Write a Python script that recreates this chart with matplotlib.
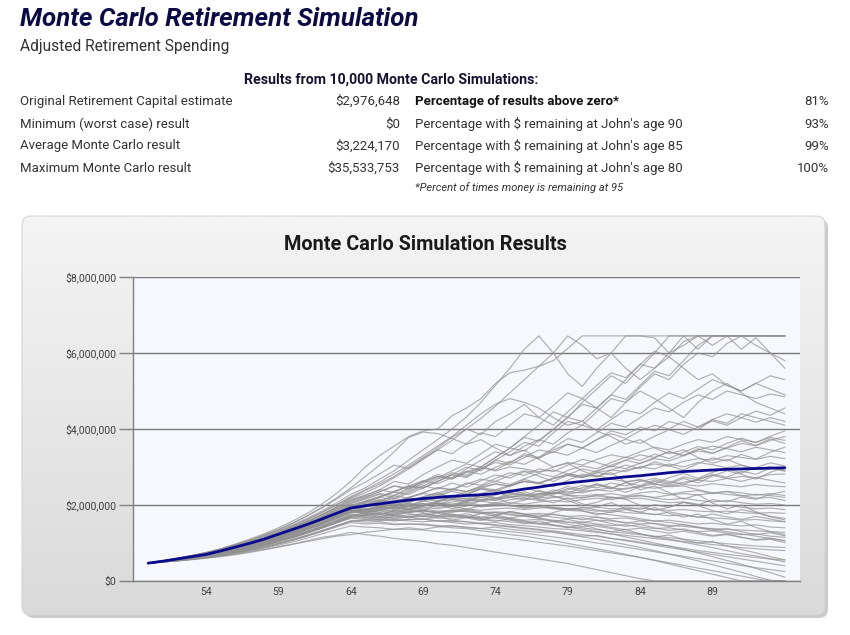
import matplotlib
matplotlib.use("Agg")
import matplotlib.pyplot as plt
from matplotlib.patches import FancyBboxPatch
from matplotlib.colors import LinearSegmentedColormap
import numpy as np

# ---------------- data (values in $10,000 units) ----------------
ages = list(range(50, 95))

expected = [47, 52, 58, 64, 70, 79, 89, 99, 110, 123, 136, 149, 163, 178, 192,
            198, 203, 208, 213, 217, 220, 223, 225, 227, 230, 236, 242, 247, 253, 258,
            262, 266, 270, 274, 277, 281, 285, 288, 290, 292, 294, 295, 296, 297, 298]

path_01 = [47,53,60,67,75,85,97,110,124,140,158,178,202,230,262, 300,330,355,380,395,400,435,455,480,520,548,555,565,580,612,645,645,645,645,645,645,645,645,645,645,645,645,645,645,645]
path_02 = [47,53,59,66,74,84,95,107,121,136,153,172,194,218,245, 275,305,340,378,392,388,375,360,372,350,330,345,320,300,310,290,275,285,260,240,250,232,215,228,205,190,200,182,170,165]
path_03 = [47,52,58,65,73,83,94,106,119,133,148,165,184,205,228, 245,268,290,318,345,372,400,432,470,515,560,610,645,600,545,512,560,600,645,645,640,600,620,645,645,645,645,645,645,645]
path_04 = [47,52,58,64,71,80,90,101,113,126,140,155,172,190,210, 225,240,262,255,280,300,318,310,335,360,350,380,410,445,430,470,505,540,520,560,600,645,645,610,645,645,645,645,645,645]
path_05 = [47,52,57,63,70,78,87,97,108,120,133,147,163,180,198, 210,222,236,250,245,262,280,300,290,318,340,365,355,390,420,410,445,480,470,510,545,530,570,600,590,625,645,620,600,560]
path_06 = [47,52,58,64,71,79,88,98,110,122,136,151,168,186,205, 218,230,225,245,262,280,270,295,318,340,330,355,372,360,390,410,398,425,450,440,470,495,480,505,530,515,500,520,540,530]
path_07 = [47,53,59,66,73,82,92,103,116,130,145,162,181,200,220, 238,255,275,300,325,350,378,400,385,420,440,465,430,410,445,480,455,430,470,500,480,455,430,470,500,520,495,470,455,440]
path_08 = [47,52,57,63,69,77,86,96,107,119,132,146,161,177,195, 205,220,215,232,250,268,285,278,300,325,350,342,370,400,432,465,455,490,530,570,560,600,645,645,645,645,645,645,645,645]
path_09 = [47,52,58,64,70,78,87,97,108,120,133,147,162,178,196, 208,220,234,228,245,262,280,275,295,312,305,325,345,338,360,350,372,395,385,405,395,420,410,398,425,415,440,430,420,410]
path_10 = [47,51,56,62,68,76,85,95,106,118,131,145,160,176,192, 200,212,205,220,232,245,240,255,268,262,278,290,285,300,312,305,320,332,325,340,352,345,360,372,365,380,372,365,378,370]
path_11 = [47,52,57,63,69,77,86,96,107,119,132,146,161,177,194, 198,205,212,208,218,228,222,235,245,240,252,262,258,270,278,272,285,292,288,300,308,302,315,322,318,330,325,320,328,322]
path_12 = [47,51,56,61,67,74,82,91,101,112,124,137,151,166,182, 185,190,196,192,200,206,202,210,215,212,220,225,222,230,235,232,240,245,242,250,255,252,260,265,262,270,275,272,280,282]
path_13 = [47,52,57,62,68,75,83,92,102,113,125,138,152,167,184, 188,194,190,198,204,200,208,214,210,218,224,220,228,232,228,236,240,236,244,248,244,250,254,250,256,252,248,254,250,248]
path_14 = [47,51,56,61,66,73,81,90,100,111,123,136,150,165,180, 182,186,183,190,194,190,196,200,196,202,206,202,208,212,208,214,218,214,220,224,220,226,230,226,232,228,224,228,225,220]
path_15 = [47,51,55,60,65,72,80,88,97,107,118,130,143,157,172, 174,178,175,180,184,180,186,190,186,190,192,188,192,194,190,192,194,190,190,192,188,186,188,184,182,184,180,178,180,178]
path_16 = [47,51,55,60,66,73,81,90,100,111,123,136,150,165,181, 182,184,180,184,186,182,184,186,180,182,180,176,178,175,170,172,168,164,166,160,158,160,155,150,152,148,145,148,142,140]
path_17 = [47,50,54,59,64,70,77,85,94,104,115,127,140,154,168, 168,170,166,170,172,168,170,172,166,168,165,160,162,158,154,155,150,146,148,142,138,140,134,130,132,126,122,124,118,115]
path_18 = [47,50,54,58,63,69,76,84,93,103,114,126,139,153,166, 165,168,164,168,170,165,166,168,162,160,156,152,150,146,142,140,135,130,126,122,118,114,110,106,102,98,95,92,90,88]
path_19 = [47,51,55,59,64,70,77,85,94,104,115,127,140,153,165, 162,164,160,162,163,158,157,156,150,148,144,140,136,132,127,122,118,112,108,102,96,92,86,80,75,70,66,62,58,55]
path_20 = [47,50,53,57,62,67,73,80,88,97,107,118,130,142,154, 150,152,148,150,150,146,144,142,138,134,130,126,121,116,111,106,100,95,89,83,77,71,65,59,53,47,41,35,30,25]
path_21 = [47,50,53,57,61,66,72,79,86,94,103,113,124,135,145, 142,140,136,136,134,130,128,125,120,116,112,107,102,97,92,86,80,74,68,62,55,48,41,34,27,20,13,6,0,0]
path_22 = [47,50,53,56,60,64,69,75,82,89,97,106,115,120,128, 122,118,112,108,104,98,94,88,82,76,70,64,58,52,46,38,30,22,14,6,0,0,0,0,0,0,0,0,0,0]
path_23 = [47,51,55,59,64,70,76,83,91,100,110,121,133,145,158, 155,156,150,150,148,144,140,138,132,128,122,118,112,106,99,92,85,78,70,62,54,45,36,27,18,9,0,0,0,0]
path_24 = [47,50,54,58,63,68,74,81,89,98,108,119,131,144,157, 160,158,162,158,156,158,154,150,152,146,142,138,134,128,122,116,110,103,96,88,80,71,62,53,43,33,23,12,2,0]
path_25 = [47,51,55,60,65,71,78,86,95,105,116,128,141,155,170, 172,175,170,174,176,170,172,168,165,166,160,156,152,148,142,136,130,124,116,108,100,92,83,74,64,54,44,33,22,10]
path_26 = [47,51,56,61,67,74,82,91,101,112,124,137,151,166,182, 185,190,184,188,190,184,186,182,178,180,174,170,166,160,155,150,144,138,130,124,116,110,102,95,88,80,72,66,58,50]
path_27 = [47,52,57,63,69,76,84,93,103,114,126,139,153,168,184, 190,196,192,200,204,198,202,205,200,202,198,195,196,190,186,184,178,174,170,164,158,154,148,142,136,130,124,118,112,106]
path_28 = [47,52,58,64,70,78,87,97,108,120,133,147,162,178,195, 200,206,200,210,216,210,214,218,212,216,220,214,218,222,216,220,224,218,222,226,218,214,218,212,208,212,206,202,204,200]
path_29 = [47,51,56,62,68,75,83,92,102,113,125,138,152,167,183, 176,186,196,205,198,210,222,216,230,240,232,244,236,228,240,252,245,258,250,262,270,262,255,268,278,270,262,272,265,258]
path_30 = [47,52,57,63,70,78,87,97,108,121,135,150,166,183,201, 196,210,224,218,232,246,240,258,252,270,285,278,295,288,305,320,312,300,318,332,325,340,330,345,355,348,340,352,345,338]
path_31 = [47,53,59,66,73,81,91,102,114,127,142,158,175,193,213, 222,235,250,242,260,275,268,288,300,292,312,330,322,345,360,350,372,388,375,395,410,400,420,405,425,440,430,418,430,420]
path_32 = [47,52,58,65,72,80,90,101,113,126,141,157,175,195,218, 232,250,272,295,320,345,370,400,428,460,495,530,565,600,645,620,585,600,560,530,560,590,560,530,545,515,500,520,505,490]
path_33 = [47,53,59,66,74,83,93,104,116,130,145,162,180,200,222, 240,260,282,305,330,355,380,410,440,465,480,470,455,430,410,420,395,380,360,372,350,335,345,325,310,320,305,295,300,290]
path_34 = [47,51,56,62,68,75,83,92,102,113,125,138,152,167,183, 186,190,195,190,198,204,198,206,210,205,214,218,212,220,225,218,226,230,224,232,236,228,234,238,230,236,232,226,230,225]
path_35 = [47,52,57,63,69,76,84,93,103,114,126,139,153,168,185, 188,194,188,196,200,194,198,202,195,198,200,194,196,192,190,188,184,186,180,178,176,172,174,168,166,164,160,162,158,156]
path_36 = [47,52,58,64,71,79,88,98,109,121,134,148,163,179,197, 205,214,208,220,230,226,240,236,248,255,250,262,258,270,278,272,285,280,292,300,295,308,300,312,306,298,305,295,300,292]
path_37 = [47,53,60,67,75,84,95,107,120,135,152,171,192,215,240, 260,282,305,296,322,345,335,362,390,380,410,440,430,462,495,480,515,548,535,570,605,590,630,645,620,645,610,640,600,580]
path_38 = [47,50,54,58,63,69,75,82,90,99,109,120,132,145,158, 160,162,158,162,163,158,160,156,152,154,148,146,142,138,136,132,128,124,120,116,112,108,104,100,96,92,88,85,82,80]
path_39 = [47,51,55,60,66,72,79,87,96,106,117,129,142,156,171, 175,180,176,182,184,180,182,184,178,180,176,172,174,168,164,166,160,158,154,150,152,146,144,140,138,136,134,132,130,128]
path_40 = [47,51,56,61,67,74,82,91,101,112,124,137,151,166,182, 188,195,202,198,210,222,216,230,242,236,250,262,256,270,282,276,290,302,296,310,322,316,330,342,336,350,362,356,370,380]
path_41 = [47,52,57,63,69,76,84,93,103,114,126,139,153,168,184, 196,210,225,240,256,272,290,308,300,325,350,378,368,398,430,420,455,490,478,515,552,540,580,620,645,645,645,645,645,645]
path_42 = [47,52,58,64,71,79,88,98,109,121,134,148,164,181,200, 210,222,235,250,244,262,280,272,295,318,310,335,325,350,375,365,390,415,405,430,455,445,470,490,478,500,490,480,492,485]
path_43 = [47,53,59,66,73,81,90,100,111,123,137,152,169,188,208, 220,235,250,245,262,275,270,285,298,290,300,295,288,292,282,275,278,268,262,265,255,248,250,240,232,235,225,218,220,212]
path_44 = [47,52,57,63,69,76,84,93,103,114,126,139,154,170,188, 195,202,198,210,218,212,220,226,220,228,232,226,230,234,226,224,228,220,216,218,212,206,208,202,198,200,194,190,192,188]
path_45 = [47,50,53,57,61,66,71,77,83,90,97,104,111,118,122, 128,132,136,140,136,142,146,140,138,142,136,132,128,130,124,118,120,112,106,100,94,88,82,76,70,64,58,52,46,40]
path_46 = [47,52,56,62,69,75,84,92,104,115,126,141,154,171,186, 179,192,205,198,186,201,214,208,226,219,204,213,231,224,212,198,207,221,215,199,186,194,207,199,185,177,188,180,169,161]
path_47 = [47,51,57,62,67,75,82,93,101,113,127,137,152,164,181, 190,176,184,199,211,203,190,197,212,226,240,229,218,235,249,241,256,247,233,248,262,255,270,258,276,290,281,268,286,299]
path_48 = [47,52,58,63,70,77,87,95,107,117,131,143,160,174,190, 201,214,196,205,221,233,218,227,242,236,221,230,214,206,219,203,195,206,190,181,193,178,168,176,162,150,157,141,130,122]
path_49 = [47,51,56,61,67,73,81,89,99,109,121,131,146,158,174, 168,160,171,166,178,172,160,167,178,171,183,176,169,180,191,185,174,182,195,188,201,194,207,200,214,208,221,215,228,236]
path_50 = [47,53,58,65,71,80,89,100,110,124,136,153,168,186,204, 215,228,219,236,251,242,258,247,264,279,271,288,276,262,279,295,287,305,318,309,325,341,330,348,336,352,369,357,374,362]
path_51 = [47,52,57,62,68,76,84,94,103,115,128,140,155,172,187, 181,174,186,178,169,181,175,166,159,170,163,152,158,147,140,149,137,129,136,124,116,121,109,100,104,92,83,74,64,56]
path_52 = [47,51,55,61,66,73,80,88,98,107,119,130,143,159,173, 179,186,194,187,199,206,196,211,220,212,227,235,224,240,231,246,255,243,259,268,256,272,283,270,286,297,284,299,311,303]
path_53 = [47,52,58,64,70,78,86,96,106,119,131,146,161,178,196, 188,197,209,219,210,223,236,228,244,256,249,267,258,248,265,281,274,292,305,296,314,303,292,309,324,316,333,321,339,352]
path_54 = [47,51,56,61,67,74,82,90,100,110,122,134,148,161,177, 171,179,172,181,186,178,171,177,168,174,166,172,165,157,162,154,160,151,144,149,140,133,137,128,120,124,115,107,110,101]
path_55 = [47,52,57,63,69,77,85,95,105,117,130,144,159,175,192, 199,208,218,209,222,231,243,235,250,262,254,269,283,274,291,303,295,312,326,317,334,322,339,354,345,362,376,364,381,395]
path_56 = [47,51,56,62,68,75,83,92,102,114,126,139,153,169,185, 178,170,178,187,180,172,181,189,182,174,183,176,168,176,169,161,168,160,152,158,150,143,149,141,133,138,130,122,127,119]
path_57 = [47,52,57,63,70,78,86,96,107,118,131,145,161,176,194, 186,198,190,203,196,209,218,211,225,217,231,224,238,230,244,237,252,244,259,251,266,258,274,266,281,273,289,281,297,289]
path_58 = [47,51,55,60,66,72,79,86,95,105,116,127,139,153,168, 173,166,174,169,162,169,176,170,163,157,164,158,151,156,149,143,148,141,135,139,132,126,131,124,118,122,115,109,113,106]
path_59 = [47,53,59,65,72,81,91,101,113,126,141,156,174,193,215, 226,240,233,250,264,256,272,289,281,299,315,307,326,340,331,350,338,357,373,362,381,398,386,405,421,410,430,447,436,455]
path_60 = [47,52,57,63,69,76,85,94,104,116,128,142,157,173,190, 195,202,194,188,197,205,196,189,198,206,199,191,200,193,186,194,187,180,188,181,174,182,175,168,176,169,162,170,163,156]

paths = [path_01, path_02, path_03, path_04, path_05, path_06, path_07, path_08, path_09,
         path_10, path_11, path_12, path_13, path_14, path_15, path_16, path_17, path_18,
         path_19, path_20, path_21, path_22, path_23, path_24, path_25, path_26, path_27,
         path_28, path_29, path_30, path_31, path_32, path_33, path_34, path_35, path_36,
         path_37, path_38, path_39, path_40, path_41, path_42, path_43, path_44, path_45,
         path_46, path_47, path_48, path_49, path_50, path_51, path_52, path_53, path_54,
         path_55, path_56, path_57, path_58, path_59, path_60]

x_tick_ages = [54, 59, 64, 69, 74, 79, 84, 89]
y_ticks = [0, 200, 400, 600, 800]
y_tick_labels = ["$0", "$2,000,000", "$4,000,000", "$6,000,000", "$8,000,000"]

left_labels = ["Original Retirement Capital estimate", "Minimum (worst case) result",
               "Average Monte Carlo result", "Maximum Monte Carlo result"]
left_values = ["$2,976,648", "$0", "$3,224,170", "$35,533,753"]
right_labels = ["Percentage of results above zero*",
                "Percentage with $ remaining at John's age 90",
                "Percentage with $ remaining at John's age 85",
                "Percentage with $ remaining at John's age 80"]
right_values = ["81%", "93%", "99%", "100%"]

# ---------------- figure ----------------
W, H = 850, 635
FONT = ["Roboto", "DejaVu Sans"]
plt.rcParams['font.family'] = FONT

fig = plt.figure(figsize=(W / 100, H / 100), dpi=100)
fig.patch.set_facecolor("white")

bg = fig.add_axes([0, 0, 1, 1], zorder=0)
bg.set_xlim(0, W)
bg.set_ylim(H, 0)
bg.axis("off")

navy_text = "#0b0b45"
txt = "#333333"

bg.text(20, 19, "Monte Carlo Retirement Simulation", fontsize=18.6, fontweight="bold",
        fontstyle="italic", color=navy_text, va="center", ha="left")
bg.text(20, 47, "Adjusted Retirement Spending", fontsize=11.2, color=txt, va="center", ha="left")

bg.text(391, 80, "Results from 10,000 Monte Carlo Simulations:", fontsize=10.2, fontweight="bold",
        color="#141432", va="center", ha="center")

row_y = [101.5, 124, 146, 168.3]
for i, y in enumerate(row_y):
    bg.text(20, y, left_labels[i], fontsize=9.5, color=txt, va="center", ha="left")
    bg.text(400, y, left_values[i], fontsize=9.5, color=txt, va="center", ha="right")
    bg.text(415, y, right_labels[i], fontsize=9.5, color=("#111111" if i == 0 else txt),
            fontweight=("bold" if i == 0 else "normal"), va="center", ha="left")
    bg.text(829, y, right_values[i], fontsize=9.5, color=txt, va="center", ha="right")
bg.text(415, 188, "*Percent of times money is remaining at 95", fontsize=8,
        fontstyle="italic", color=txt, va="center", ha="left")

# chart panel with shadow and gradient
shadow = FancyBboxPatch((25, 219), 803, 399, boxstyle="round,pad=0,rounding_size=9",
                        facecolor="#bdbdbd", edgecolor="none", alpha=0.8, zorder=1)
bg.add_patch(shadow)
panel = FancyBboxPatch((22, 216), 803, 399, boxstyle="round,pad=0,rounding_size=9",
                       facecolor="none", edgecolor="#d4d4d4", linewidth=0.8, zorder=3)
bg.add_patch(panel)
clip_panel = FancyBboxPatch((22, 216), 803, 399, boxstyle="round,pad=0,rounding_size=9",
                            facecolor="none", edgecolor="none", transform=bg.transData)
cmap = LinearSegmentedColormap.from_list("g", ["#f4f4f4", "#dadada"])
grad = np.linspace(0, 1, 256).reshape(-1, 1)
im = bg.imshow(grad, extent=[22, 825, 615, 216], aspect="auto", cmap=cmap, zorder=2,
               origin="upper")
im.set_clip_path(clip_panel)
bg.set_xlim(0, W)
bg.set_ylim(H, 0)

bg.text(425, 244, "Monte Carlo Simulation Results", fontsize=14.3, fontweight="bold",
        color="#1a1a1a", va="center", ha="center", zorder=4)

# plot area
ax = fig.add_axes([133 / W, 1 - 581 / H, 667 / W, 304 / H], zorder=2)
ax.set_facecolor("#f7f8fd")
for p in paths:
    ax.plot(ages, p, color="#909090", lw=0.85, alpha=0.7, zorder=2)
ax.plot(ages, expected, color="#0a0a8f", lw=2.0, zorder=4, solid_capstyle="round")

ax.set_xlim(48.95, 95.05)
ax.set_ylim(0, 800)
ax.set_yticks(y_ticks)
ax.set_yticklabels(y_tick_labels)
ax.set_xticks(x_tick_ages)
ax.set_xticklabels([str(a) for a in x_tick_ages])
ax.tick_params(axis="y", direction="out", length=10, width=1, color="#808080",
               labelsize=7.6, labelcolor="#404040", pad=2)
ax.tick_params(axis="x", length=0, labelsize=7.6, labelcolor="#404040", pad=4)
ax.yaxis.grid(True, color="#7a7a7a", lw=1, zorder=1)
ax.set_axisbelow(True)
for s in ["top", "right"]:
    ax.spines[s].set_visible(False)
for s in ["left", "bottom"]:
    ax.spines[s].set_color("#808080")
    ax.spines[s].set_linewidth(1)

fig.savefig("out.png", dpi=100)
